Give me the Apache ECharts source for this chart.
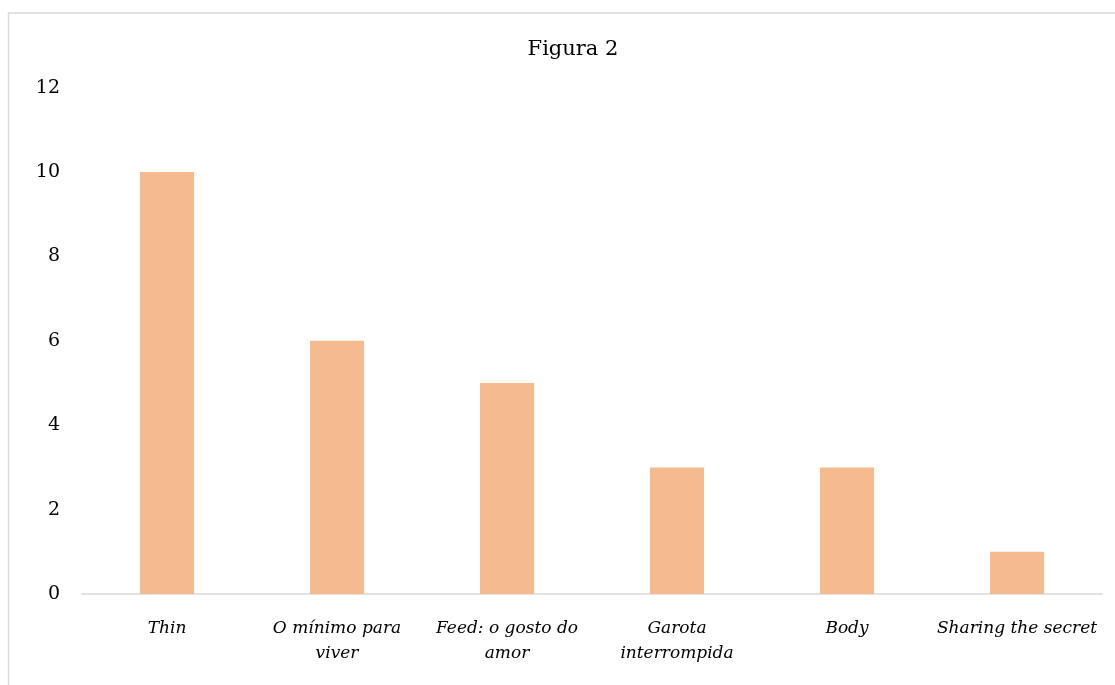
<!DOCTYPE html>
<html>
<head>
<meta charset="utf-8">
<script src="https://cdn.jsdelivr.net/npm/echarts@6/dist/echarts.min.js"></script>
<style>
html,body{margin:0;padding:0;background:#fff;}
#chart{width:1115px;height:685px;}
</style>
</head>
<body>
<div id="chart"></div>
<script>
const categories = ['Thin', 'O mínimo para\nviver', 'Feed: o gosto do\namor', 'Garota\ninterrompida', 'Body', 'Sharing the secret'];
const values = [10, 6, 5, 3, 3, 1];
const titleText = 'Figura 2';

const chart = echarts.init(document.getElementById('chart'));
const serif = '"DejaVu Serif", "Liberation Serif", serif';
chart.setOption({
  animation: false,
  backgroundColor: '#ffffff',
  graphic: [{
    type: 'rect', left: 6, top: 10.5, silent: true,
    shape: { width: 1300, height: 900 },
    style: { fill: 'none', stroke: '#d9d9d9', lineWidth: 1.5 }
  }],
  title: {
    text: titleText, left: 568, top: 34, textAlign: 'center',
    textStyle: { fontFamily: serif, fontSize: 21, fontWeight: 'normal', color: '#000' }
  },
  grid: { left: 82, right: 13, top: 87.6, bottom: 91, containLabel: false },
  xAxis: {
    type: 'category', data: categories,
    axisLine: { lineStyle: { color: '#d9d9d9', width: 1.5 } },
    axisTick: { show: false },
    axisLabel: { interval: 0, margin: 22, fontFamily: serif, fontStyle: 'italic', fontSize: 17, color: '#000', lineHeight: 25 }
  },
  yAxis: {
    type: 'value', min: 0, max: 12, interval: 2,
    axisLine: { show: false }, axisTick: { show: false },
    splitLine: { show: false },
    axisLabel: { margin: 22, fontFamily: serif, fontSize: 19, color: '#000' }
  },
  series: [{
    type: 'bar', data: values, barWidth: '31.8%',
    itemStyle: { color: '#F5BB8F' }
  }]
});
</script>
</body>
</html>
